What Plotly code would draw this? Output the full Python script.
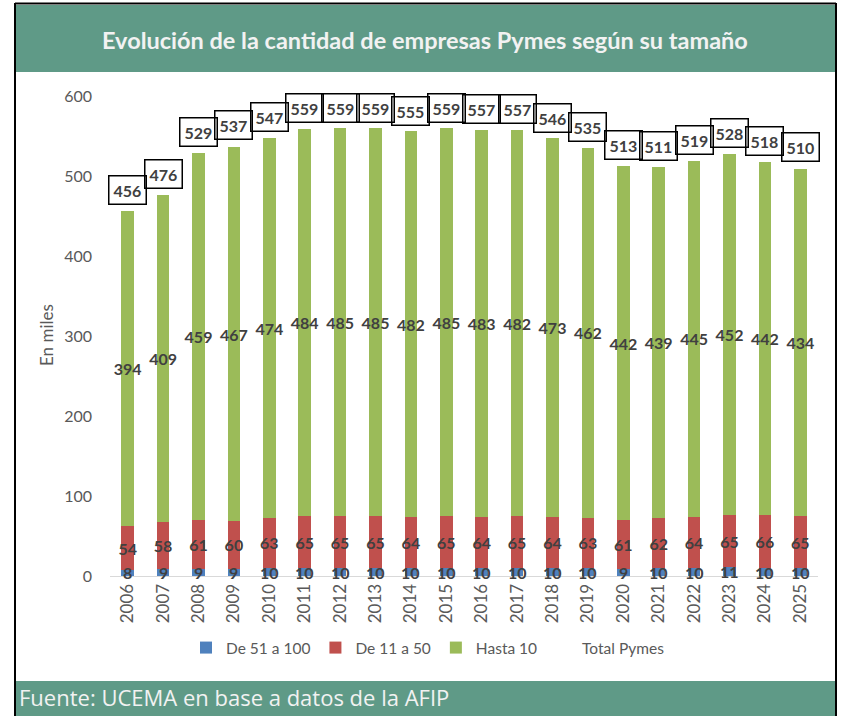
import plotly.graph_objects as go

years = [str(y) for y in range(2006, 2026)]
hasta10 = [394, 409, 459, 467, 474, 484, 485, 485, 482, 485, 483, 482, 473, 462, 442, 439, 445, 452, 442, 434]
de11a50 = [54, 58, 61, 60, 63, 65, 65, 65, 64, 65, 64, 65, 64, 63, 61, 62, 64, 65, 66, 65]
de51a100 = [8, 9, 9, 9, 10, 10, 10, 10, 10, 10, 10, 10, 10, 10, 9, 10, 10, 11, 10, 10]
totales = [456, 476, 529, 537, 547, 559, 559, 559, 555, 559, 557, 557, 546, 535, 513, 511, 519, 528, 518, 510]

title_text = "Evolución de la cantidad de empresas Pymes según su tamaño"
source_text = "Fuente: UCEMA en base a datos de la AFIP"
y_title = "En miles"

FONT = "Lato"
LABEL_FONT = dict(family=FONT, size=16, color="#404040", weight="bold")

# plot area in pixels (for paper coordinate conversion of decorations)
W, H = 846, 716
L, R, T, B = 110, 818, 96, 576
def px(x):
    return (x - L) / (R - L)
def py(y):
    return (B - y) / (B - T)

fig = go.Figure()

def bar(name, vals, color, with_text=True):
    kw = {}
    if with_text:
        kw = dict(text=[str(v) for v in vals], textposition="inside", insidetextanchor="middle",
                  textangle=0, constraintext="none", textfont=LABEL_FONT)
    return go.Bar(x=years, y=vals, name=name, marker=dict(color=color, line=dict(width=0)),
                  cliponaxis=False, **kw)

fig.add_trace(bar("De 51 a 100", de51a100, "#4f81bd", with_text=False))
fig.add_trace(bar("De 11 a 50", de11a50, "#c0504d"))
fig.add_trace(bar("Hasta 10", hasta10, "#9bbb59"))
fig.add_trace(go.Scatter(x=years, y=totales, name="Total Pymes", mode="lines",
                         line=dict(color="rgba(0,0,0,0)", width=0), hoverinfo="skip"))

annotations = []
# labels of the smallest segment (drawn on top so the stacked bar above does not hide them)
for i, v in enumerate(de51a100):
    annotations.append(dict(x=i, y=v / 2, xref="x", yref="y", text=str(v), showarrow=False,
                            xanchor="center", yanchor="middle", font=LABEL_FONT))
for i, tot in enumerate(totales):
    annotations.append(dict(
        x=i, y=tot, xref="x", yref="y", text=str(tot), showarrow=False,
        yanchor="bottom", yshift=6, font=LABEL_FONT,
        bordercolor="#000000", borderwidth=1.5, borderpad=4,
    ))

annotations.append(dict(x=px(425), y=py(40), xref="paper", yref="paper", text=f"<b>{title_text}</b>",
                        showarrow=False, xanchor="center", yanchor="middle",
                        font=dict(family=FONT, size=23.5, color="#f2f2f2")))
annotations.append(dict(x=px(17), y=py(697), xref="paper", yref="paper", text=source_text,
                        showarrow=False, xanchor="left", yanchor="middle",
                        font=dict(family="Open Sans", size=22, color="#f2f2f2")))
annotations.append(dict(x=px(46), y=py(335), xref="paper", yref="paper", text=y_title,
                        showarrow=False, textangle=-90, xanchor="center", yanchor="middle",
                        font=dict(family=FONT, size=17, color="#595959")))

band = "#5f9a87"
shapes = [
    dict(type="rect", xref="paper", yref="paper", x0=px(16), x1=px(836), y0=py(5), y1=py(72),
         fillcolor=band, line=dict(width=0), layer="below"),
    dict(type="rect", xref="paper", yref="paper", x0=px(16), x1=px(836), y0=py(681), y1=py(720),
         fillcolor=band, line=dict(width=0), layer="below"),
    dict(type="line", xref="paper", yref="paper", x0=px(15), x1=px(15), y0=py(3), y1=py(720),
         line=dict(color="#000000", width=2)),
    dict(type="line", xref="paper", yref="paper", x0=px(836), x1=px(836), y0=py(3), y1=py(720),
         line=dict(color="#000000", width=2)),
    dict(type="line", xref="paper", yref="paper", x0=px(15), x1=px(836), y0=py(3.5), y1=py(3.5),
         line=dict(color="#000000", width=2)),
]

fig.update_layout(
    width=W, height=H,
    margin=dict(l=L, r=W - R, t=T, b=H - B),
    paper_bgcolor="white", plot_bgcolor="white",
    barmode="stack", bargap=0.645,
    font=dict(family=FONT, size=13, color="#595959"),
    showlegend=True,
    legend=dict(orientation="h", x=px(428), xanchor="center", y=py(648), yanchor="middle",
                bgcolor="rgba(0,0,0,0)",
                font=dict(family=FONT, size=15.5, color="#595959"), traceorder="normal",
                itemwidth=30),
    annotations=annotations, shapes=shapes,
    xaxis=dict(type="category", range=[-0.5, 19.5], tickangle=-90, showline=True,
               linecolor="#d9d9d9", linewidth=1, ticks="", showgrid=False,
               tickfont=dict(family=FONT, size=17, color="#595959")),
    yaxis=dict(range=[0, 600], dtick=100, showgrid=False, showline=False, zeroline=False,
               ticks="", tickfont=dict(family=FONT, size=16, color="#595959"), ticklabelstandoff=17),
)

fig.write_html("out.html", config={"displayModeBar": False},
               post_script="document.body.style.margin='0';")
